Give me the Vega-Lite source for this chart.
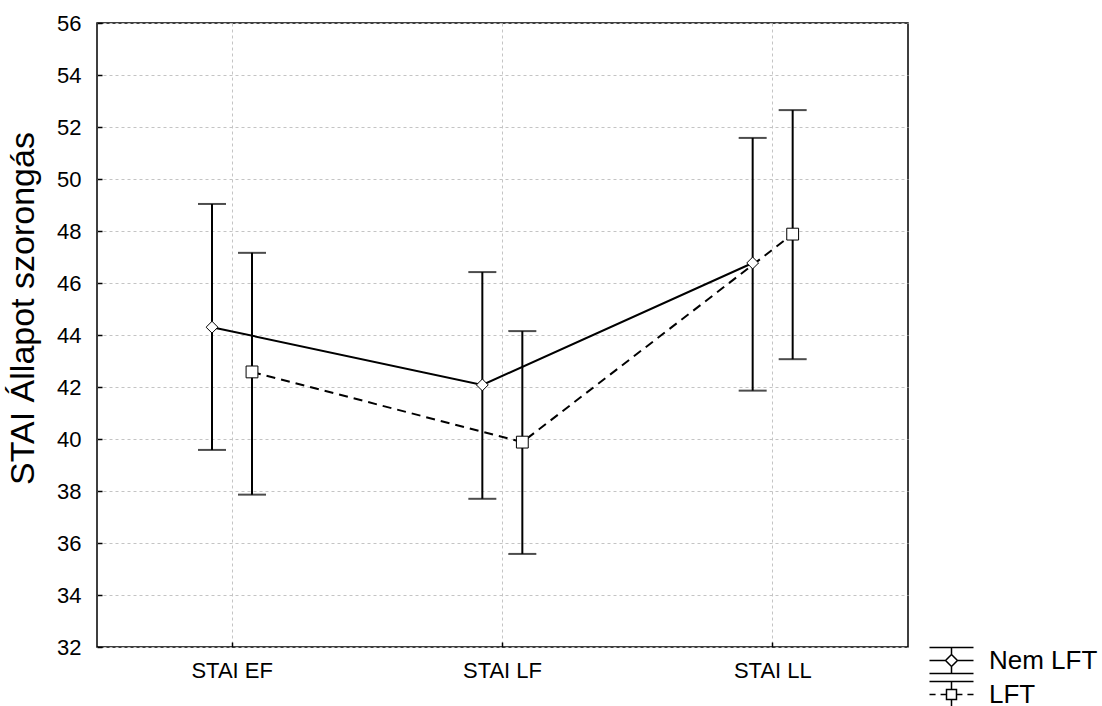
{
  "$schema": "https://vega.github.io/schema/vega-lite/v6.json",
  "width": 811,
  "height": 624,
  "autosize": {"type": "none"},
  "padding": {"left": 97, "top": 23, "right": 194, "bottom": 59},
  "background": "white",
  "data": {
    "values": [
      {"cat": "STAI EF", "group": "Nem LFT", "mean": 44.3, "lo": 39.58, "hi": 49.04},
      {"cat": "STAI EF", "group": "LFT", "mean": 42.58, "lo": 37.86, "hi": 47.16},
      {"cat": "STAI LF", "group": "Nem LFT", "mean": 42.08, "lo": 37.7, "hi": 46.42},
      {"cat": "STAI LF", "group": "LFT", "mean": 39.88, "lo": 35.58, "hi": 44.15},
      {"cat": "STAI LL", "group": "Nem LFT", "mean": 46.77, "lo": 41.86, "hi": 51.58},
      {"cat": "STAI LL", "group": "LFT", "mean": 47.88, "lo": 43.07, "hi": 52.65}
    ]
  },
  "encoding": {
    "x": {
      "field": "cat", "type": "nominal", "sort": ["STAI EF", "STAI LF", "STAI LL"],
      "scale": {"paddingInner": 0, "paddingOuter": 0},
      "axis": {"title": null, "labelAngle": 0, "labelFontSize": 22, "labelPadding": 18, "tickSize": -5, "domain": false, "grid": true}
    },
    "xOffset": {
      "field": "group", "type": "nominal", "sort": ["Nem LFT", "LFT"],
      "scale": {"type": "point", "range": [115, 155], "padding": 0}
    }
  },
  "layer": [
    {
      "mark": {"type": "rule", "color": "black", "strokeWidth": 2},
      "encoding": {
        "y": {
          "field": "lo", "type": "quantitative",
          "scale": {"domain": [32, 56], "nice": false, "zero": false},
          "axis": {"title": "STAI Állapot szorongás", "titleFontSize": 34, "titleFontWeight": "normal",
                   "titleAngle": 270, "titleBaseline": "alphabetic", "titleAlign": "center", "titleX": -64, "titleY": 285,
                   "values": [32, 34, 36, 38, 40, 42, 44, 46, 48, 50, 52, 54, 56],
                   "labelFontSize": 22, "labelPadding": 21, "tickSize": -5, "domain": false, "grid": true}
        },
        "y2": {"field": "hi"}
      }
    },
    {
      "mark": {"type": "tick", "orient": "horizontal", "size": 28, "thickness": 2, "color": "black"},
      "encoding": {"y": {"field": "lo", "type": "quantitative"}}
    },
    {
      "mark": {"type": "tick", "orient": "horizontal", "size": 28, "thickness": 2, "color": "black"},
      "encoding": {"y": {"field": "hi", "type": "quantitative"}}
    },
    {
      "transform": [{"filter": "datum.group === 'Nem LFT'"}],
      "mark": {"type": "line", "color": "black", "strokeWidth": 2},
      "encoding": {"y": {"field": "mean", "type": "quantitative"}}
    },
    {
      "transform": [{"filter": "datum.group === 'LFT'"}],
      "mark": {"type": "line", "color": "black", "strokeWidth": 2, "strokeDash": [9, 6]},
      "encoding": {"y": {"field": "mean", "type": "quantitative"}}
    },
    {
      "mark": {"type": "point", "filled": true, "fill": "white", "stroke": "black", "strokeWidth": 1, "opacity": 1, "size": 140},
      "encoding": {
        "y": {"field": "mean", "type": "quantitative"},
        "shape": {
          "field": "group", "type": "nominal", "sort": ["Nem LFT", "LFT"],
          "scale": {"domain": ["Nem LFT", "LFT"], "range": ["diamond", "square"]},
          "legend": null
        }
      }
    },
    {
      "transform": [{"filter": "false"}],
      "mark": {"type": "point", "filled": false, "color": "black", "strokeWidth": 1.5, "opacity": 1},
      "encoding": {
        "y": {"field": "mean", "type": "quantitative"},
        "shape": {
          "field": "group", "type": "nominal", "sort": ["Nem LFT", "LFT"],
          "scale": {"domain": ["Nem LFT", "LFT"], "range": [
            "M-1.63,-0.96L1.63,-0.96M-1.63,0.96L1.63,0.96M0,-0.96L0,-0.44M0,0.44L0,0.96M-1.63,0L-0.44,0M0.44,0L1.63,0M0,-0.44L0.44,0L0,0.44L-0.44,0Z",
            "M-1.63,-0.96L1.63,-0.96M-1.63,0.96L1.63,0.96M0,-0.96L0,-0.37M0,0.37L0,0.96M-1.63,0L-1.18,0M-0.81,0L-0.37,0M0.37,0L0.81,0M1.18,0L1.63,0M-0.37,-0.37L0.37,-0.37L0.37,0.37L-0.37,0.37Z"
          ]},
          "legend": {
            "orient": "none", "legendX": 840, "legendY": 623, "title": null, "padding": 0,
            "symbolSize": 729, "symbolStrokeWidth": 1.5, "symbolStrokeColor": "black",
            "labelFontSize": 26, "labelColor": "black", "labelOffset": 23, "rowPadding": 1
          }
        }
      }
    }
  ],
  "resolve": {"scale": {"shape": "independent"}, "legend": {"shape": "independent"}},
  "config": {
    "font": "Liberation Sans",
    "view": {"stroke": "black", "strokeWidth": 1.5},
    "axis": {
      "labelFont": "Liberation Sans", "titleFont": "Liberation Sans",
      "labelColor": "black", "titleColor": "black",
      "tickColor": "black", "tickWidth": 1.5,
      "gridColor": "#c4c4c4", "gridDash": [3, 3], "gridWidth": 1
    },
    "legend": {"labelFont": "Liberation Sans"}
  }
}
